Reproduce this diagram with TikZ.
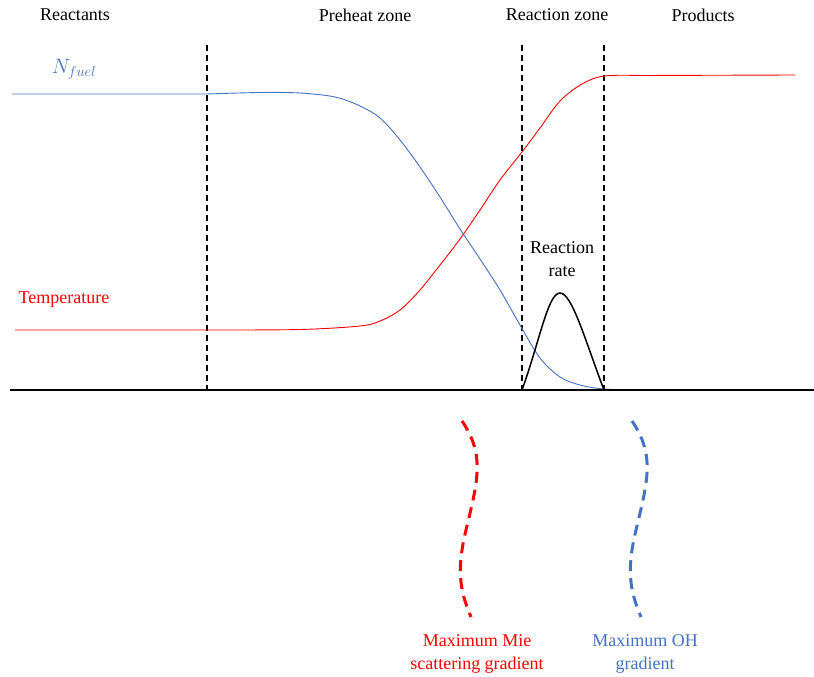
\documentclass[tikz,border=0pt]{standalone}
\usepackage{fontspec}
\setmainfont{Liberation Serif}
\usepackage{amsmath}
\begin{document}
\begin{tikzpicture}[x=1pt,y=-1pt,
  lbl/.style={font=\rmfamily\fontsize{18}{21}\selectfont, inner sep=0pt, align=center},
  zoneline/.style={line width=1.3pt, dash pattern=on 6pt off 4pt},
  front/.style={line width=3pt, dash pattern=on 11pt off 7pt}
]
\definecolor{fblue}{RGB}{68,114,196}
\useasboundingbox (0,0) rectangle (814,677);

% zone labels
\node[lbl] (reac) at (75,15) {Reactants};
\node[lbl] (pre) at (365,15) {Preheat zone};
\node[lbl] (rz) at (557,15) {Reaction zone};
\node[lbl] (prod) at (703,15) {Products};

% zone boundaries
\coordinate (b1t) at (207,45); \coordinate (b1b) at (207,390);
\coordinate (b2t) at (522,45); \coordinate (b2b) at (522,390);
\coordinate (b3t) at (604,45); \coordinate (b3b) at (604,390);
\draw[zoneline] (b1t) -- (b1b);
\draw[zoneline] (b2t) -- (b2b);
\draw[zoneline] (b3t) -- (b3b);

% fuel concentration profile
\draw[fblue, line width=0.9pt] (12,94) -- (207,94)
  plot[smooth, tension=0.55] coordinates {(207,94) (260,92.5) (300,93) (335,97)
    (360,106) (380,118) (400,140) (420,167) (440,197) (460,229) (480,259)
    (500,290) (520,325) (540,358) (560,377) (580,385) (604,389) (640,390)};

% temperature profile
\draw[red, line width=0.9pt] (15,330) -- (207,330)
  plot[smooth, tension=0.55] coordinates {(207,330) (300,329.5) (360,326)
    (380,321) (400,310) (420,290) (440,265) (460,239) (480,210) (500,180)
    (522,152) (540,128) (560,101) (582,84) (604,76) (640,75.5)} -- (795,75);

% reaction rate
\draw[line width=1.5pt] (b2b) .. controls (540,340) and (548,293) .. (560,293)
  .. controls (572,293) and (585,340) .. (b3b);

% axis
\draw[line width=2.5pt] (10,390) -- (814,390);

% curve labels
\node[fblue, font=\fontsize{21}{24}\selectfont] (nf) at (74,69) {$N_{fuel}$};
\node[lbl, red] (temp) at (64,300) {Temperature};
\node[lbl] (rr) at (562,259) {Reaction\\[2pt]rate};

% measured front positions
\draw[red, front] (462,421) .. controls (485,455) and (478,480) .. (466,530)
  .. controls (455,575) and (462,595) .. (471,617);
\draw[fblue, front] (632,421) .. controls (655,455) and (648,480) .. (636,530)
  .. controls (625,575) and (632,595) .. (641,617);

\node[lbl, red] (mie) at (477,654) {Maximum Mie\\[2pt]scattering gradient};
\node[lbl, fblue] (oh) at (645,654) {Maximum OH\\[2pt]gradient};
\end{tikzpicture}
\end{document}
